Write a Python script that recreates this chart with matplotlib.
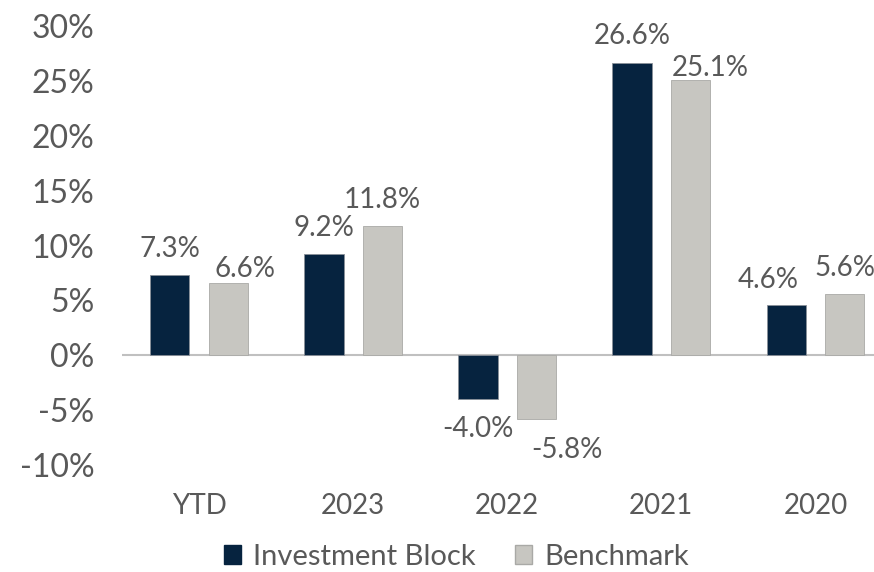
import numpy as np
import matplotlib
matplotlib.use("Agg")
import matplotlib.pyplot as plt
from matplotlib.patches import Patch

categories = ["YTD", "2023", "2022", "2021", "2020"]
investment = [7.3, 9.2, -4.0, 26.6, 4.6]
benchmark = [6.6, 11.8, -5.8, 25.1, 5.6]
yticks = [-10, -5, 0, 5, 10, 15, 20, 25, 30]

# label nudges (points) so neighbouring labels don't collide, like the original
inv_dx = [0, 0, 0, 0, -13]
inv_gap = [13, 13, 12, 14, 12]
bm_dx = [12, 0, 22, 14, 0]
bm_gap = [4, 13, 13, 3, 13]

dark = "#06233f"
grey = "#c7c6c1"
txt = "#595959"

plt.rcParams["font.family"] = ["Lato", "DejaVu Sans"]

fig = plt.figure(figsize=(8.74, 5.72), dpi=100)
ax = fig.add_axes([0.1396, 0.187, 0.8604, 0.7675])

x = np.arange(len(categories))
w = 0.255
off = 0.19
b1 = ax.bar(x - off, investment, w, color=dark, edgecolor="#8a9099", linewidth=0.6, zorder=3)
b2 = ax.bar(x + off, benchmark, w, color=grey, edgecolor="#a9a9a6", linewidth=0.6, zorder=3)

for bars, vals, dxs, gaps in [(b1, investment, inv_dx, inv_gap), (b2, benchmark, bm_dx, bm_gap)]:
    for b, v, dx, g in zip(bars, vals, dxs, gaps):
        cx = b.get_x() + b.get_width() / 2
        if v >= 0:
            ax.annotate(f"{v:.1f}%", (cx, v), xytext=(dx, g), textcoords="offset points",
                        ha="center", va="baseline", fontsize=20, color=txt)
        else:
            ax.annotate(f"{v:.1f}%", (cx, v), xytext=(dx, -g), textcoords="offset points",
                        ha="center", va="top", fontsize=20, color=txt)

ax.axhline(0, color="#c0c0c0", linewidth=1.5, zorder=2)
ax.set_xlim(-0.5, 4.38)
ax.set_ylim(-10, 30)
ax.set_yticks(yticks)
ax.set_yticklabels([f"{t}%" for t in yticks], fontsize=23, color=txt)
ax.set_xticks(x)
ax.set_xticklabels(categories, fontsize=20, color=txt)
ax.tick_params(axis="both", length=0)
ax.tick_params(axis="y", pad=20)
ax.tick_params(axis="x", pad=20)
for s in ax.spines.values():
    s.set_visible(False)

handles = [Patch(facecolor=dark, edgecolor=dark), Patch(facecolor=grey, edgecolor="#a9a9a6")]
fig.legend(handles, ["Investment Block", "Benchmark"], loc="center", bbox_to_anchor=(0.522, 0.027),
           ncol=2, frameon=False, fontsize=21, labelcolor=txt, handlelength=0.6, handleheight=0.6,
           handletextpad=0.4, columnspacing=1.35)

fig.savefig("out.png", dpi=100)
